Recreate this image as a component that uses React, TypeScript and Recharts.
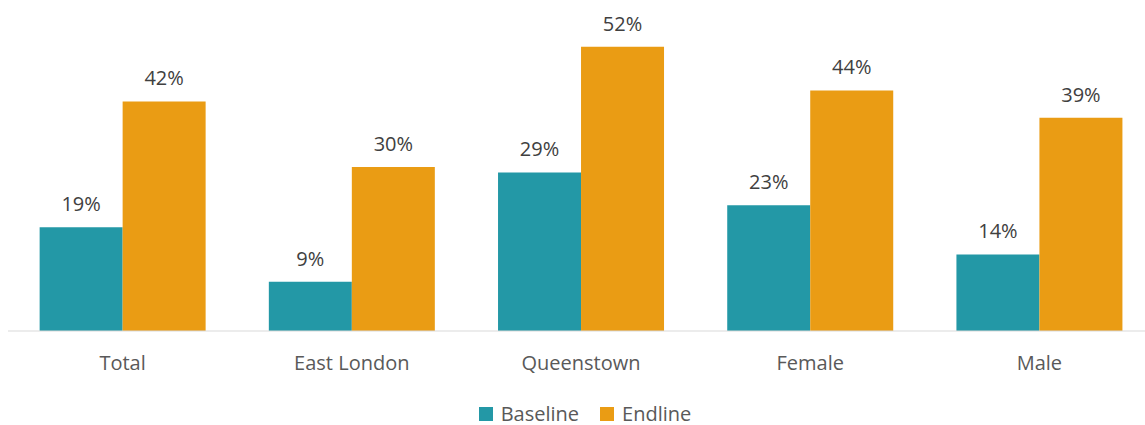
import React from "react";
import { BarChart, Bar, XAxis, YAxis, Legend, LabelList } from "recharts";

const categories = ["Total", "East London", "Queenstown", "Female", "Male"];
const baseline = [19, 9, 29, 23, 14];
const endline = [42, 30, 52, 44, 39];
const seriesNames = ["Baseline", "Endline"];
const colors = ["#2398A6", "#EA9C14"];

const data = categories.map((c, i) => ({ name: c, Baseline: baseline[i], Endline: endline[i] }));

const FONT = "'Open Sans', 'Noto Sans', sans-serif";

const LegendContent = () => (
  <div
    style={{
      height: 34,
      boxSizing: "border-box",
      paddingTop: 12,
      display: "flex",
      justifyContent: "center",
      alignItems: "center",
      fontFamily: FONT,
      fontSize: 20,
      lineHeight: "22px",
      color: "#595959",
      paddingLeft: 8,
    }}
  >
    {seriesNames.map((n, i) => (
      <div key={n} style={{ display: "flex", alignItems: "center", marginRight: i === 0 ? 21 : 0 }}>
        <span style={{ display: "inline-block", width: 14, height: 14, background: colors[i], marginRight: 8 }} />
        <span>{n}</span>
      </div>
    ))}
  </div>
);

export default function App() {
  return (
    <div style={{ position: "absolute", left: 0, top: 0, width: 1145, height: 425, overflow: "hidden", background: "#fff" }}>
      <BarChart
        width={1154}
        height={425}
        data={data}
        margin={{ top: 3, right: 0, left: 8, bottom: 0 }}
        barGap={0}
        barCategoryGap="13.8%"
      >
        <XAxis
          dataKey="name"
          height={60}
          axisLine={{ stroke: "#D9D9D9", strokeWidth: 1 }}
          tickLine={false}
          tickMargin={19}
          tick={{ fontSize: 20, fill: "#595959", fontFamily: FONT }}
          interval={0}
        />
        <YAxis hide domain={[0, 60]} />
        <Legend verticalAlign="bottom" content={<LegendContent />} />
        {seriesNames.map((n, i) => (
          <Bar key={n} dataKey={n} fill={colors[i]} isAnimationActive={false}>
            <LabelList
              dataKey={n}
              position="top"
              offset={16}
              formatter={(v: number) => `${v}%`}
              style={{ fontSize: 20, fill: "#404040", fontFamily: FONT }}
            />
          </Bar>
        ))}
      </BarChart>
    </div>
  );
}
